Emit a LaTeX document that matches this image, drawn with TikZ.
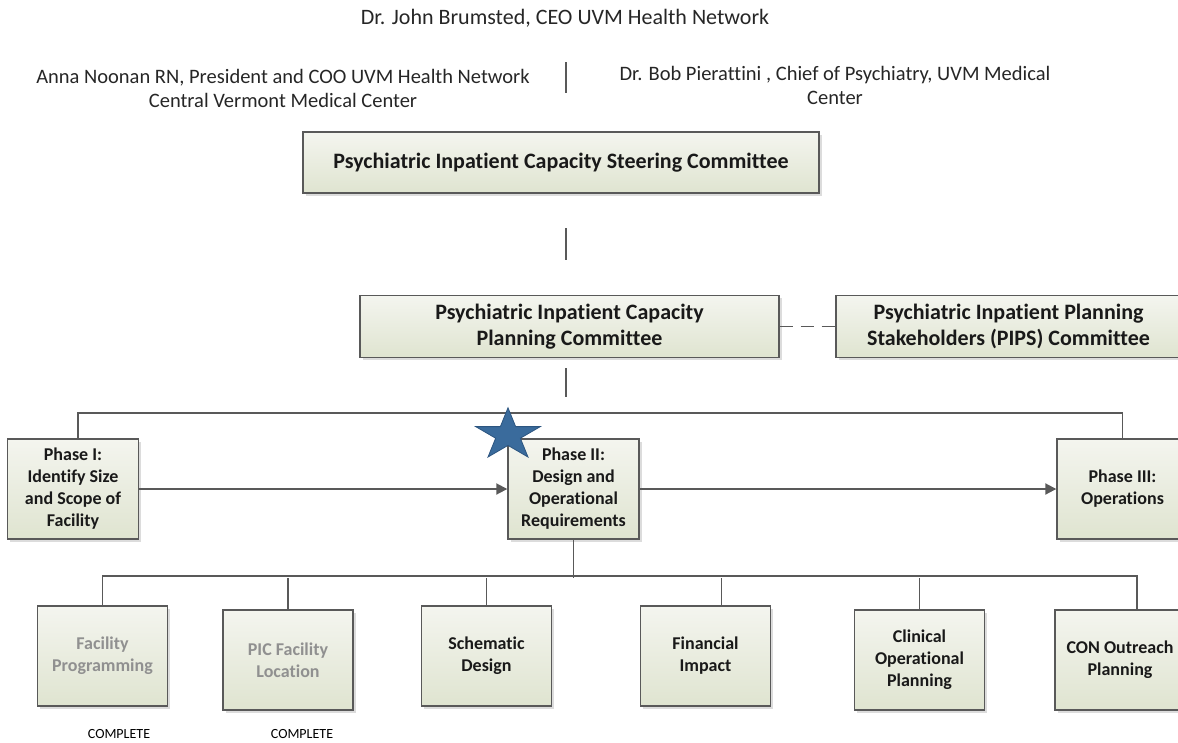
\documentclass[tikz,border=0pt]{standalone}
\usepackage{fontspec}
\setmainfont[Ligatures={NoCommon,NoRequired,NoContextual}]{Carlito}
\usetikzlibrary{arrows.meta,shadows,shapes.geometric}
\definecolor{linegray}{HTML}{595959}
\definecolor{boxtop}{HTML}{F4F5EF}
\definecolor{boxbot}{HTML}{DFE4D0}
\definecolor{donegray}{HTML}{909090}
\definecolor{starblue}{HTML}{3A6B9C}
\definecolor{starline}{HTML}{2C5580}

\begin{document}
\begin{tikzpicture}[x=1pt,y=-1pt,
    box/.style={draw=linegray, line width=1.4pt, top color=boxtop, bottom color=boxbot,
      drop shadow={shadow xshift=2.5pt, shadow yshift=-2.5pt, fill=black!30, opacity=0.45},
      font=\fontsize{18}{22}\selectfont\bfseries, text=black!90, align=center, inner sep=0pt},
    board/.style={box, font=\fontsize{22}{26}\selectfont\bfseries},
    phase/.style={box, minimum width=131, minimum height=100},
    task/.style={box, minimum width=130, minimum height=100},
    done/.style={task, text=donegray},
    person/.style={font=\fontsize{20.5}{24}\selectfont, text=black!85, align=center, inner sep=0pt},
    conn/.style={draw=linegray, line width=1.9pt},
    tip/.style={-{Triangle[length=11pt,width=11pt]}}]
    \useasboundingbox (0,0) rectangle (1178,742);
      %
      \node[person, font=\fontsize{22}{24}\selectfont] (ceo) at (565,18) {Dr. John Brumsted, CEO UVM Health Network};
      \node[person] (anna) at (283,88) {Anna Noonan RN, President and COO UVM Health Network\\Central Vermont Medical Center};
      \node[person] (bob) at (835,85) {Dr. Bob Pierattini , Chief of Psychiatry, UVM Medical\\Center};
      \coordinate (sepa) at (566,62);
      \coordinate (sepb) at (566,93);
      \draw[draw=linegray, line width=1.2pt] (sepa) -- (sepb);
      %
      \node[board, minimum width=516, minimum height=61] (steer) at (561,162.5) {Psychiatric Inpatient Capacity Steering Committee};
      \node[board, minimum width=419, minimum height=62] (plan) at (569.5,326.5) {Psychiatric Inpatient Capacity\\Planning Committee};
      \node[board, minimum width=345, minimum height=62] (pips) at (1008.5,326.5) {Psychiatric Inpatient Planning\\Stakeholders (PIPS) Committee};
      \coordinate (stema) at (566,228);
      \coordinate (stemb) at (566,260);
      \coordinate (stemc) at (566,368);
      \coordinate (stemd) at (566,397);
      \draw[conn] (stema) -- (stemb);
      \draw[conn] (stemc) -- (stemd);
      \draw[conn, dash pattern=on 13pt off 8pt] (plan.east) -- (pips.west);
      %
      \node[phase] (p1) at (73,489) {Phase I:\\Identify Size\\and Scope of\\Facility};
      \node[phase] (p2) at (573.5,489) {Phase II:\\Design and\\Operational\\Requirements};
      \node[phase] (p3) at (1122.5,489) {Phase III:\\Operations};
      \draw[conn] ([xshift=5]p1.north) -- ++(0,-25) -| (p3.north);
      \draw[conn, tip] (p1.east) -- (p2.west);
      \draw[conn, tip] (p2.east) -- (p3.west);
      %
      \begin{scope}[shift={(508,435)}]
        \node[star, star points=5, star point ratio=2.618, minimum size=68, inner sep=0pt,
          fill=starblue, draw=starline, line width=0.8pt, transform shape, yscale=0.8] (star) at (0,0) {};
      \end{scope}
      %
      \node[done] (fac) at (102.5,656) {Facility\\Programming};
      \node[done] (pic) at (288,660) {PIC Facility\\Location};
      \node[task] (sch) at (486.5,656) {Schematic\\Design};
      \node[task] (fin) at (705.5,656) {Financial\\Impact};
      \node[task] (clin) at (919.5,660) {Clinical\\Operational\\Planning};
      \node[task] (con) at (1120,660) {CON Outreach\\Planning};
      %
      \draw[conn] (p2.south) -- ++(0,38) coordinate (bus);
      \draw[conn] (fac.north) -- ++(0,-29) -| ([xshift=17]con.north);
      \draw[conn] (pic.north) -- (pic.north |- bus);
      \draw[conn] (sch.north) -- (sch.north |- bus);
      \draw[conn] ([xshift=16]fin.north) -- ([xshift=16]fin.north |- bus);
      \draw[conn] (clin.north) -- (clin.north |- bus);
      %
      \node[font=\fontsize{14}{16}\selectfont, inner sep=0pt] (faccheck) at (119,734) {COMPLETE};
      \node[font=\fontsize{14}{16}\selectfont, inner sep=0pt] (piccheck) at (302,734) {COMPLETE};
    \end{tikzpicture}
\end{document}
